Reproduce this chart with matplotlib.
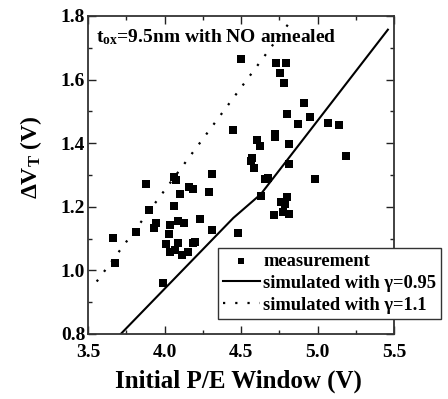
import matplotlib
matplotlib.use("Agg")
import matplotlib.pyplot as plt
from matplotlib.ticker import MultipleLocator

plt.rcParams['font.family'] = ['Liberation Serif', 'DejaVu Serif']
plt.rcParams['font.weight'] = 'bold'
plt.rcParams['mathtext.fontset'] = 'custom'
plt.rcParams['mathtext.rm'] = 'Liberation Serif:bold'
plt.rcParams['mathtext.bf'] = 'Liberation Serif:bold'
plt.rcParams['mathtext.it'] = 'Liberation Serif:bold:italic'

# measurement points
meas_x = [3.662, 3.677, 3.88, 3.90, 3.815, 3.944, 3.933, 4.064, 4.077, 4.099,
          4.158, 4.186, 4.293, 4.311, 4.064, 4.033, 4.027, 4.086, 4.125, 4.234,
          4.311, 4.011, 4.033, 4.070, 4.086, 4.116, 4.154, 4.184, 4.200, 3.990,
          4.479, 4.446, 4.497, 4.731, 4.794, 4.757, 4.781, 4.910, 4.798, 4.951,
          4.875, 5.069, 5.141, 4.604, 4.624, 4.720, 4.722, 4.816, 4.571, 4.567,
          4.582, 4.816, 5.185, 4.659, 4.678, 4.982, 4.632, 4.803, 4.759, 4.787,
          4.777, 4.713, 4.816]
meas_y = [1.103, 1.022, 1.272, 1.190, 1.120, 1.150, 1.132, 1.295, 1.284, 1.240,
          1.261, 1.256, 1.247, 1.304, 1.203, 1.143, 1.114, 1.155, 1.148, 1.163,
          1.127, 1.083, 1.057, 1.064, 1.085, 1.048, 1.057, 1.085, 1.089, 0.960,
          1.117, 1.441, 1.666, 1.651, 1.651, 1.622, 1.590, 1.525, 1.493, 1.481,
          1.459, 1.464, 1.456, 1.411, 1.392, 1.428, 1.418, 1.398, 1.353, 1.343,
          1.322, 1.335, 1.360, 1.288, 1.291, 1.287, 1.235, 1.230, 1.216, 1.209,
          1.185, 1.174, 1.178]

# simulated gamma = 0.95
sim095_x = [3.714, 4.45, 4.63, 5.46]
sim095_y = [0.800, 1.165, 1.240, 1.757]

# simulated gamma = 1.1
sim11_x = [3.557, 4.816]
sim11_y = [0.965, 1.779]

fig = plt.figure(figsize=(4.48, 3.99), dpi=100)
ax = fig.add_axes([88/448, 1-334/399, (394-88)/448, (334-16)/399])

ax.scatter(meas_x, meas_y, marker='s', s=30, color='black', linewidths=0,
           label='measurement', zorder=3)
ax.plot(sim095_x, sim095_y, color='black', lw=1.5, label='simulated with γ=0.95')
ax.plot(sim11_x, sim11_y, color='black', lw=1.6, linestyle=(0, (1, 4.5)),
        label='simulated with γ=1.1')

ax.set_xlim(3.5, 5.5)
ax.set_ylim(0.8, 1.8)
ax.xaxis.set_minor_locator(MultipleLocator(0.25))
ax.yaxis.set_minor_locator(MultipleLocator(0.1))
ax.set_xticks([3.5, 4.0, 4.5, 5.0, 5.5])
ax.set_xticklabels(['3.5', '4.0', '4.5', '5.0', '5.5'])
ax.set_yticks([0.8, 1.0, 1.2, 1.4, 1.6, 1.8])
ax.set_yticklabels(['0.8', '1.0', '1.2', '1.4', '1.6', '1.8'])
ax.tick_params(which='both', direction='in', top=True, right=True,
               labelsize=14, width=1.0, color='#222222')
ax.tick_params(axis='y', pad=2)
ax.tick_params(axis='x', pad=7)
ax.tick_params(which='major', length=6)
ax.tick_params(which='minor', length=3)
for sp in ax.spines.values():
    sp.set_linewidth(1.3)
    sp.set_color('#333333')

ax.text(0.025, 0.935, r't$_{\mathregular{ox}}$=9.5nm with NO annealed',
        transform=ax.transAxes, fontsize=14, fontweight='bold',
        va='center', ha='left')

fig.text(238/448, 1-381/399, 'Initial P/E Window (V)', fontsize=18,
         fontweight='bold', ha='center', va='center')
fig.text(31/448, 1-157/399, r'$\Delta$V$_{\mathregular{T}}$ (V)', fontsize=17,
         fontweight='bold', ha='center', va='center', rotation=90)

leg = ax.legend(loc='upper left', bbox_to_anchor=(218/448, 1-248/399),
                bbox_transform=fig.transFigure, frameon=True, fancybox=False,
                edgecolor='#333333', fontsize=13.3, handlelength=2.0,
                handletextpad=0.2, borderpad=0.25, labelspacing=0.28,
                borderaxespad=0, markerscale=0.8)
leg.get_frame().set_linewidth(1.0)
leg.get_frame().set_alpha(1)

fig.savefig('out.png', dpi=100)
